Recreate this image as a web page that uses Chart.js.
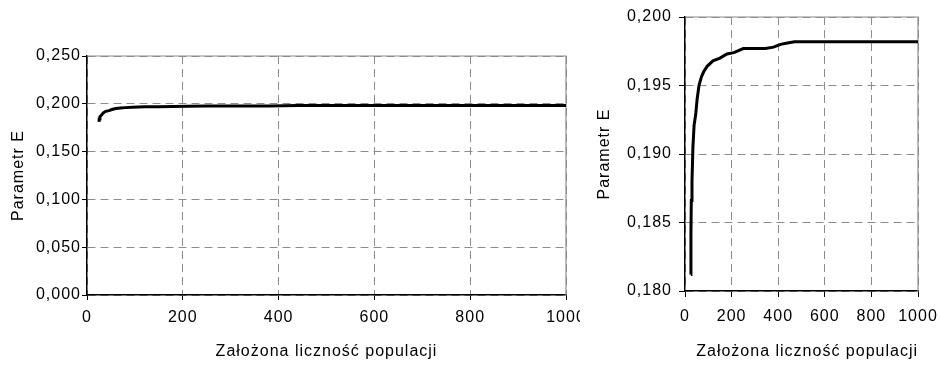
<!DOCTYPE html>
<html>
<head>
<meta charset="utf-8">
<script src="https://cdn.jsdelivr.net/npm/chart.js@4"></script>
<style>
    body { margin: 0; background: #ffffff; }
    #leftBox { position: absolute; left: 0; top: 0; width: 580px; height: 365px; }
    #rightBox { position: absolute; left: 580px; top: 0; width: 360px; height: 365px; }
</style>
</head>
<body>
<div id="leftBox"><canvas id="leftChart" width="580" height="365"></canvas></div>
<div id="rightBox"><canvas id="rightChart" width="360" height="365"></canvas></div>
<script>
// population size (x) and parameter E (y)
const popX = [25, 25.5, 27, 30, 34, 39, 46, 52, 60, 70, 80, 95, 120, 150, 180, 210, 250, 300, 345, 380, 410, 440, 470, 600, 800, 1000];
const paramE = [0.1812, 0.1842, 0.1866, 0.1880, 0.1905, 0.1921, 0.1929, 0.1940, 0.1950, 0.1956, 0.1960, 0.1964, 0.1968, 0.1970, 0.1973, 0.1974, 0.1977, 0.1977, 0.1977, 0.1978, 0.1980, 0.1981, 0.1982, 0.1982, 0.1982, 0.1982];

const xTicks = [0, 200, 400, 600, 800, 1000];
const leftYTicks = [0, 0.05, 0.1, 0.15, 0.2, 0.25];
const rightYTicks = [0.18, 0.185, 0.19, 0.195, 0.2];

const xTitle = "Założona liczność populacji";
const yTitle = "Parametr E";

const FONT = "'Liberation Sans', Arial, Helvetica, sans-serif";

function fmt(v) {
    return v.toFixed(3).replace(".", ",");
}

// the original lettering is a bit wider than Liberation Sans
const spacing = {
    id: "spacing",
    beforeLayout(chart) { chart.ctx.letterSpacing = "1px"; },
    beforeDraw(chart) { chart.ctx.letterSpacing = "1px"; }
};

const frame = {
    id: "frame",
    beforeDatasetsDraw(chart) {
        const a = chart.chartArea;
        const ctx = chart.ctx;
        ctx.save();
        ctx.strokeStyle = "#8c8c8c";
        ctx.lineWidth = 1.2;
        ctx.beginPath();
        ctx.moveTo(a.left, a.top);
        ctx.lineTo(a.right, a.top);
        ctx.lineTo(a.right, a.bottom);
        ctx.stroke();
        ctx.restore();
    }
};

function makeChart(id, opt) {
    const points = popX.map((x, i) => ({ x: x, y: paramE[i] }));
    return new Chart(document.getElementById(id), {
        type: "line",
        data: {
            datasets: [{
                data: points,
                borderColor: "#000000",
                borderWidth: 3,
                pointRadius: 0,
                tension: 0,
                fill: false
            }]
        },
        options: {
            responsive: false,
            animation: false,
            events: [],
            layout: { padding: opt.padding },
            plugins: { legend: { display: false }, tooltip: { enabled: false } },
            scales: {
                x: {
                    type: "linear",
                    min: 0,
                    max: 1000,
                    afterBuildTicks: s => { s.ticks = xTicks.map(v => ({ value: v })); },
                    afterFit: s => { s.height = opt.xHeight; s.paddingLeft = 0; s.paddingRight = 0; },
                    ticks: {
                        color: "#000",
                        font: { family: FONT, size: opt.tickSize },
                        padding: opt.xPad,
                        maxRotation: 0,
                        autoSkip: false,
                        callback: v => String(v)
                    },
                    grid: {
                        color: "#8c8c8c",
                        lineWidth: 1,
                        tickLength: opt.tickLen,
                        tickColor: "#000",
                        tickBorderDash: []
                    },
                    border: { color: "#000", width: 1.5, dash: [8, 5] },
                    title: {
                        display: true,
                        text: xTitle,
                        color: "#000",
                        align: opt.titleAlign,
                        font: { family: FONT, size: opt.titleSize },
                        padding: { top: 0, bottom: opt.xTitlePad }
                    }
                },
                y: {
                    min: opt.yTicks[0],
                    max: opt.yTicks[opt.yTicks.length - 1],
                    afterBuildTicks: s => { s.ticks = opt.yTicks.map(v => ({ value: v })); },
                    afterFit: s => { s.width = opt.yWidth; s.paddingTop = 0; s.paddingBottom = 0; },
                    ticks: {
                        color: "#000",
                        font: { family: FONT, size: opt.tickSize },
                        padding: opt.yPad,
                        callback: v => fmt(v)
                    },
                    grid: {
                        color: "#8c8c8c",
                        lineWidth: 1,
                        tickLength: opt.tickLen,
                        tickColor: "#000",
                        tickBorderDash: []
                    },
                    border: { color: "#000", width: 1.5, dash: [8, 5] },
                    title: {
                        display: true,
                        text: yTitle,
                        color: "#000",
                        font: { family: FONT, size: opt.titleSize },
                        padding: { top: opt.yTitlePad, bottom: 0 }
                    }
                }
            }
        },
        plugins: [spacing, frame]
    });
}

makeChart("leftChart", {
    padding: { left: 0, right: 14, top: 56, bottom: 0 },
    yTicks: leftYTicks,
    yWidth: 87,
    xHeight: 70,
    tickLen: 5,
    tickSize: 16,
    titleSize: 16,
    xPad: 8,
    yPad: 1,
    xTitlePad: 4,
    yTitlePad: 9,
    titleAlign: "center"
});

makeChart("rightChart", {
    padding: { left: 0, right: 22, top: 17, bottom: 0 },
    yTicks: rightYTicks,
    yWidth: 105,
    xHeight: 74,
    tickLen: 6,
    tickSize: 16,
    titleSize: 16,
    xPad: 10,
    yPad: 7,
    xTitlePad: 4,
    yTitlePad: 15,
    titleAlign: "end"
});
</script>
</body>
</html>
